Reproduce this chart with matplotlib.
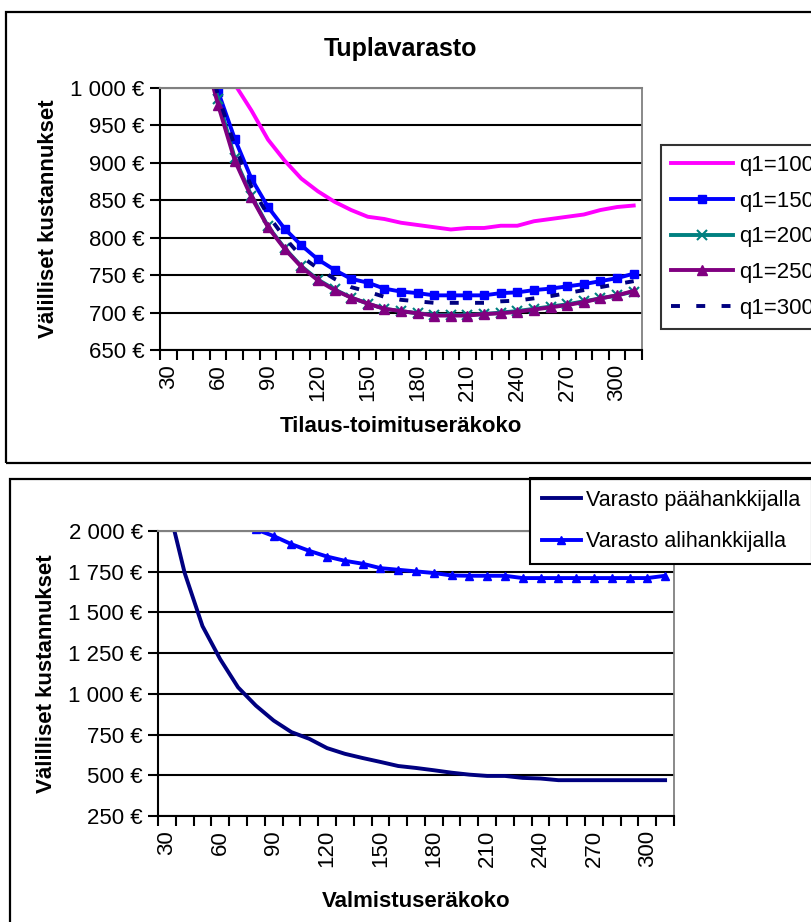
import numpy as np
import matplotlib.pyplot as plt
from matplotlib.patches import Rectangle
from matplotlib.ticker import FuncFormatter, FixedLocator

plt.rcParams['font.family'] = ['Liberation Sans', 'DejaVu Sans']

# eräkoot (kategoria-akseli)
sizes = [30, 40, 50, 60, 70, 80, 90, 100, 110, 120, 130, 140, 150, 160, 170,
         180, 190, 200, 210, 220, 230, 240, 250, 260, 270, 280, 290, 300, 310]
nan = np.nan

# Tuplavarasto, välilliset kustannukset (€)
q100 = [nan, nan, nan, 1090, 1005, 970, 931, 903, 879, 862, 848, 837, 828, 825,
        820, 817, 814, 811, 813, 813, 816, 816, 822, 825, 828, 831, 837, 841, 843]
q150 = [nan, nan, 1075, 995, 932, 879, 841, 812, 790, 771, 757, 745, 740, 732,
        728, 726, 723, 723, 723, 723, 726, 727, 730, 732, 735, 738, 742, 746, 752]
q200 = [nan, nan, 1065, 985, 906, 856, 815, 786, 762, 744, 731, 720, 712, 705,
        702, 699, 697, 697, 697, 698, 700, 702, 705, 708, 711, 715, 719, 723, 728]
q250 = [nan, nan, 1060, 977, 903, 854, 814, 785, 761, 743, 730, 720, 712, 705,
        702, 699, 696, 696, 696, 698, 699, 701, 704, 707, 710, 714, 719, 723, 729]
q300 = [nan, nan, 1070, 990, 922, 868, 830, 800, 775, 759, 745, 734, 728, 721,
        717, 715, 713, 713, 713, 713, 715, 716, 719, 722, 726, 730, 734, 738, 742]

# valmistuserä, välilliset kustannukset (€)
paa = [2190, 1742, 1416, 1212, 1040, 928, 836, 765, 724, 667, 632, 606, 582,
       557, 545, 531, 516, 504, 496, 496, 484, 480, 470, 470, 470, 470, 470, 470, 470]
ali = [nan, nan, nan, nan, nan, 2010, 1969, 1919, 1878, 1843, 1817, 1799, 1772,
       1762, 1752, 1742, 1727, 1725, 1725, 1725, 1711, 1711, 1711, 1711, 1711,
       1711, 1711, 1711, 1725]

W, H = 812, 922
fig = plt.figure(figsize=(W / 100, H / 100), dpi=100)


def px_axes(x0, y0, x1, y1):
    return fig.add_axes([x0 / W, 1 - y1 / H, (x1 - x0) / W, (y1 - y0) / H])


def euro(v, pos):
    return '{:,.0f} €'.format(v).replace(',', ' ')


def style_axes(ax, ymin, ymax, ystep):
    n = len(sizes)
    ax.set_xlim(-0.5, n - 0.5)
    ax.set_ylim(ymin, ymax)
    ax.set_yticks(np.arange(ymin, ymax + 1, ystep))
    ax.yaxis.set_major_formatter(FuncFormatter(euro))
    ax.xaxis.set_major_locator(FixedLocator(np.arange(-0.5, n, 1)))
    ax.xaxis.set_major_formatter(FuncFormatter(lambda v, p: ''))
    lab = [i for i, s in enumerate(sizes) if s % 30 == 0]
    ax.xaxis.set_minor_locator(FixedLocator(lab))
    ax.set_xticklabels([str(sizes[i]) for i in lab], minor=True, rotation=90)
    ax.tick_params(axis='x', which='major', length=7, width=1.5, direction='out')
    ax.tick_params(axis='x', which='minor', length=0, pad=10, labelsize=16)
    ax.tick_params(axis='y', length=7, width=1.5, labelsize=16, pad=4)
    ax.grid(axis='y', color='black', linewidth=1.5)
    ax.set_axisbelow(True)
    for s in ('left', 'bottom'):
        ax.spines[s].set_linewidth(1.5)
    ax.spines['top'].set_color('#808080')
    ax.spines['right'].set_color('#808080')
    ax.spines['top'].set_linewidth(1.5)
    ax.spines['right'].set_linewidth(1.3)


# kehykset
fig.patches.append(Rectangle((6 / W, 1 - 463 / H), 820 / W, (463 - 12) / H,
                             transform=fig.transFigure, fill=False,
                             edgecolor='black', linewidth=1.6))
fig.patches.append(Rectangle((10 / W, 1 - 940 / H), 820 / W, (940 - 479) / H,
                             transform=fig.transFigure, fill=False,
                             edgecolor='black', linewidth=1.6))

lw = 2.8

# --- Tuplavarasto ---
x = np.arange(len(sizes))
ax1 = px_axes(160, 88, 642, 350)
style_axes(ax1, 650, 1000, 50)
ax1.plot(x, q100, color='#FF00FF', lw=lw, label='q1=100')
ax1.plot(x, q150, color='#0000FF', lw=lw, marker='s', ms=5.5, label='q1=150')
ax1.plot(x, q200, color='#008080', lw=lw, marker='x', ms=6.5, mew=1.5,
         label='q1=200')
ax1.plot(x, q250, color='#800080', lw=lw, marker='^', ms=6.5, label='q1=250')
ax1.plot(x, q300, color='#000080', lw=lw, dashes=(2.3, 4.2),
         dash_capstyle='butt', label='q1=300')
ax1.set_title('Tuplavarasto', fontsize=18, fontweight='bold', pad=23)
ax1.set_ylabel('Välilliset kustannukset', fontsize=16, fontweight='bold',
               labelpad=8)
ax1.set_xlabel('Tilaus-toimituseräkoko', fontsize=16, fontweight='bold',
               labelpad=11)
leg1 = ax1.legend(loc='upper left', bbox_to_anchor=(661 / W, 1 - 145 / H),
                  bbox_transform=fig.transFigure, fontsize=16, frameon=True,
                  fancybox=False, edgecolor='black', handlelength=2.8,
                  handletextpad=0.25, labelspacing=0.66, borderpad=0.45,
                  borderaxespad=0)
leg1.get_frame().set_linewidth(1.5)

# --- Valmistuserä ---
ax2 = px_axes(158, 531, 674, 816)
style_axes(ax2, 250, 2000, 250)
ax2.plot(x, paa, color='#000080', lw=lw, label='Varasto päähankkijalla')
ax2.plot(x, ali, color='#0000FF', lw=lw, marker='^', ms=5.5,
         label='Varasto alihankkijalla')
ax2.set_ylabel('Välilliset kustannukset', fontsize=16, fontweight='bold',
               labelpad=8)
ax2.set_xlabel('Valmistuseräkoko', fontsize=16, fontweight='bold', labelpad=17)
leg2 = ax2.legend(loc='upper left', bbox_to_anchor=(530 / W, 1 - 478 / H),
                  bbox_transform=fig.transFigure, fontsize=15.5, frameon=True,
                  fancybox=False, edgecolor='black', handlelength=1.8,
                  handletextpad=0.25, labelspacing=0.95, borderpad=0.55,
                  borderaxespad=0, framealpha=1)
leg2.get_frame().set_linewidth(1.5)

fig.savefig('out.png', dpi=100)
